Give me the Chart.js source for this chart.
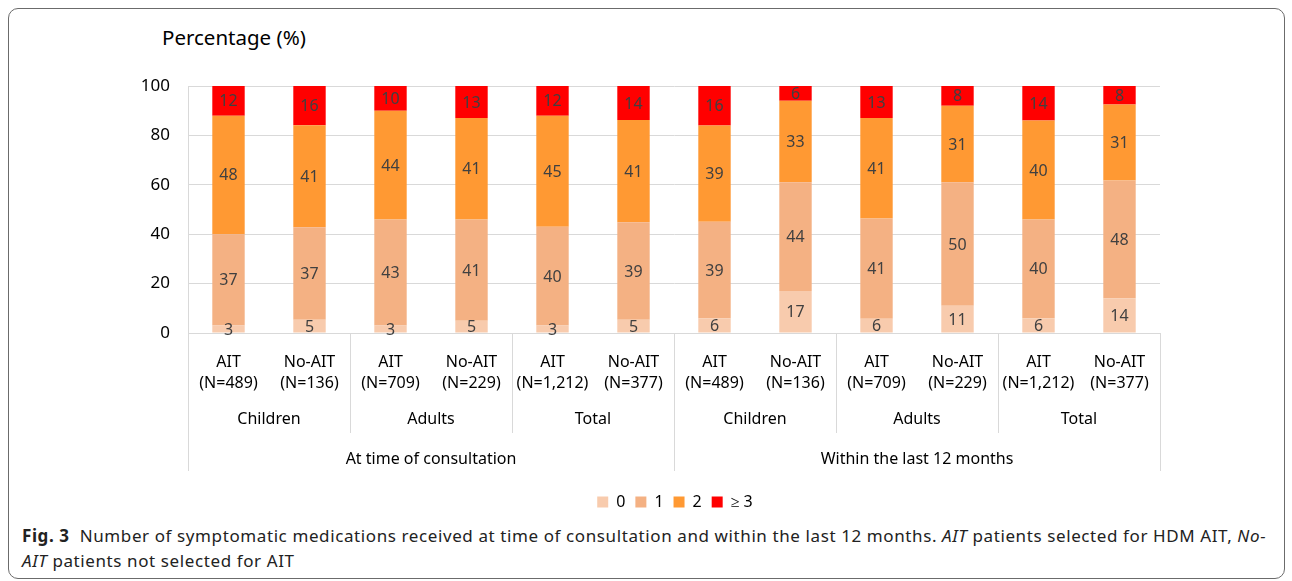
<!DOCTYPE html>
<html>
<head>
<meta charset="utf-8">
<script src="https://cdn.jsdelivr.net/npm/chart.js@4"></script>
<style>
    body { margin: 0; background: #fff; font-family: "Noto Sans", sans-serif; }
    #frame {
        position: absolute; left: 8px; top: 8px; width: 1275px; height: 569px;
        border: 1px solid #6b6b6b; border-radius: 10px;
    }
    #wrap { position: absolute; left: 60px; top: 0; width: 1230px; height: 520px; }
    #yTitle { position: absolute; left: 162px; top: 23px; font-size: 20.5px; color: #000; }
    #caption {
        position: absolute; left: 22px; top: 523px; font-size: 17px; line-height: 25px;
        letter-spacing: 0.6px; color: #222; white-space: nowrap; font-family: "Noto Sans", sans-serif;
    }
</style>
</head>
<body>
<div id="frame"></div>
<div id="yTitle">Percentage (%)</div>
<div id="wrap"><canvas id="medChart"></canvas></div>
<div id="caption"><b>Fig. 3</b>&nbsp; Number of symptomatic medications received at time of consultation and within the last 12 months. <i>AIT</i> patients selected for HDM AIT, <i>No-</i><br><i>AIT</i> patients not selected for AIT</div>
<script>
// Categories (three levels)
const barLabels = [
    ['AIT', '(N=489)'], ['No-AIT', '(N=136)'],
    ['AIT', '(N=709)'], ['No-AIT', '(N=229)'],
    ['AIT', '(N=1,212)'], ['No-AIT', '(N=377)'],
    ['AIT', '(N=489)'], ['No-AIT', '(N=136)'],
    ['AIT', '(N=709)'], ['No-AIT', '(N=229)'],
    ['AIT', '(N=1,212)'], ['No-AIT', '(N=377)']
];
const groupLabels = ['Children', 'Adults', 'Total', 'Children', 'Adults', 'Total'];
const periodLabels = ['At time of consultation', 'Within the last 12 months'];

// Series values (%), labels show them rounded
const meds0 = [3, 5.4, 3, 5, 3, 5.4, 6, 17, 5.8, 11, 6, 14.1];
const meds1 = [37, 37.4, 43, 41, 40, 39.4, 39, 44, 40.6, 50, 40, 47.6];
const meds2 = [48, 41.3, 44, 41, 45, 41.4, 39, 33, 40.6, 31, 40, 30.8];
const meds3 = [12, 15.9, 10, 13, 12, 13.8, 16, 6, 13, 8, 14, 7.5];

const yTicks = [0, 20, 40, 60, 80, 100];

const lineColor = '#d9d9d9';
const font = 'Noto Sans';

// Write the value in the middle of every segment
const valueLabels = {
    id: 'valueLabels',
    afterDatasetsDraw(chart) {
        const ctx = chart.ctx;
        ctx.save();
        ctx.font = '16px "' + font + '"';
        ctx.fillStyle = '#404040';
        ctx.textAlign = 'center';
        ctx.textBaseline = 'middle';
        chart.data.datasets.forEach((ds, i) => {
            chart.getDatasetMeta(i).data.forEach((bar, j) => {
                ctx.fillText(Math.round(ds.data[j]), bar.x, (bar.y + bar.base) / 2 + 1);
            });
        });
        ctx.restore();
    }
};

// Group labels and separators under the category axis
const groupAxis = {
    id: 'groupAxis',
    afterDraw(chart) {
        const x = chart.scales.x;
        const top = chart.chartArea.bottom;
        const n = barLabels.length;
        const edge = i => {
            if (i === 0) return x.left;
            if (i === n) return x.right;
            return (x.getPixelForValue(i - 1) + x.getPixelForValue(i)) / 2;
        };
        const ctx = chart.ctx;
        ctx.save();
        ctx.strokeStyle = lineColor;
        ctx.lineWidth = 1;
        const per2 = n / groupLabels.length;
        const per3 = n / periodLabels.length;
        for (let i = 0; i <= n; i += per2) {
            const px = Math.round(edge(i)) + 0.5;
            const len = (i % per3 === 0) ? 138 : 100;
            ctx.beginPath();
            ctx.moveTo(px, top);
            ctx.lineTo(px, top + len);
            ctx.stroke();
        }
        ctx.font = '16px "' + font + '"';
        ctx.fillStyle = '#000';
        ctx.textAlign = 'center';
        ctx.textBaseline = 'middle';
        groupLabels.forEach((g, k) => {
            ctx.fillText(g, (edge(k * per2) + edge((k + 1) * per2)) / 2, top + 86);
        });
        periodLabels.forEach((p, k) => {
            ctx.fillText(p, (edge(k * per3) + edge((k + 1) * per3)) / 2, top + 126);
        });
        ctx.restore();
    }
};

const ctx = document.getElementById('medChart').getContext('2d');
new Chart(ctx, {
    type: 'bar',
    data: {
        labels: barLabels,
        datasets: [
            { label: '0', data: meds0, backgroundColor: '#F8CBAD' },
            { label: '1', data: meds1, backgroundColor: '#F4B183' },
            { label: '2', data: meds2, backgroundColor: '#FF9933' },
            { label: '\u2265 3', data: meds3, backgroundColor: '#FF0000' }
        ]
    },
    options: {
        responsive: true,
        maintainAspectRatio: false,
        animation: false,
        layout: { padding: { top: 86, bottom: 0, left: 0, right: 0 } },
        datasets: { bar: { categoryPercentage: 1, barPercentage: 0.4 } },
        scales: {
            x: {
                stacked: true,
                grid: { display: false },
                border: { display: false },
                ticks: {
                    font: { family: font, size: 16, lineHeight: 1.32 },
                    color: '#000',
                    padding: 11,
                    maxRotation: 0,
                    autoSkip: false
                },
                afterFit: s => { s.height = 151; }
            },
            y: {
                stacked: true,
                min: 0,
                max: 100,
                afterBuildTicks: s => { s.ticks = yTicks.map(v => ({ value: v })); },
                grid: { color: lineColor, drawTicks: false },
                border: { display: true, color: lineColor },
                ticks: {
                    font: { family: font, size: 17 },
                    color: '#000',
                    padding: 18
                },
                afterFit: s => { s.width = 128; }
            },
            y2: {
                type: 'linear',
                position: 'right',
                grid: { display: false },
                border: { display: false },
                ticks: { display: false },
                afterFit: s => { s.width = 130; }
            }
        },
        plugins: {
            legend: {
                position: 'bottom',
                labels: {
                    boxWidth: 11,
                    boxHeight: 11,
                    padding: 10,
                    color: '#000',
                    font: { family: font, size: 16 }
                }
            },
            tooltip: { enabled: false }
        }
    },
    plugins: [valueLabels, groupAxis]
});
</script>
</body>
</html>
